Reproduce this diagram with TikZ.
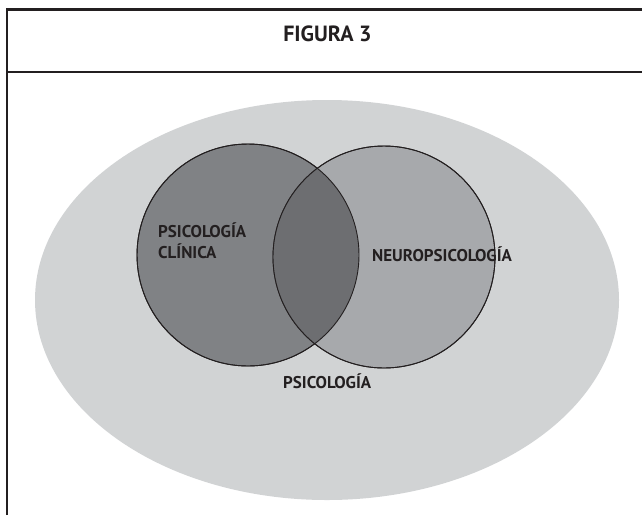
\documentclass[tikz,border=0pt]{standalone}
\usepackage{fontspec}
\setsansfont{PT Sans}
\usepackage{tikz}
\usetikzlibrary{positioning}
\usetikzlibrary{shapes.geometric}
\usetikzlibrary{backgrounds}
\definecolor{grisfondo}{HTML}{D1D3D4}
\definecolor{grisclaro}{HTML}{A7A9AC}
\definecolor{grisoscuro}{HTML}{808285}
\definecolor{grisinter}{HTML}{6D6E71}
\definecolor{marco}{HTML}{231F20}
\tikzset{
  venn_txt/.style = {inner sep=0pt, font=\sffamily\bfseries\fontsize{17}{21}\selectfont,
    text=marco},% etiquetas
  venn_c/.style = {circle, draw=marco, line width=0.9pt, minimum size=222pt,
    inner sep=0pt},% circulos
  venn_f/.style = {line width=2.4pt, draw=marco}% marco de la figura
}

\begin{document}
\begin{tikzpicture}[x=1pt,y=-1pt]
\useasboundingbox (0,0) rectangle (642,515);
% marco
\coordinate (m_sw) at (7,515);
\coordinate (m_nw) at (7,9.5);
\coordinate (m_ne) at (642,9.5);
\coordinate (h_w) at (7,72);
\coordinate (h_e) at (642,72);
\draw[venn_f] (m_sw) -- (m_nw) -- (m_ne);
\draw[venn_f] (h_w) -- (h_e);
\node[venn_txt, anchor=base, font=\sffamily\bfseries\fontsize{22}{26}\selectfont]
  (titulo) at (327.5,41) {FIGURA 3};

% psicologia
\node[ellipse, fill=grisfondo, minimum width=584pt, minimum height=400pt,
  inner sep=0pt] (psico) at (327,300) {};

% los dos circulos
\node[venn_c, fill=grisoscuro] (clin) at (248,255) {};
\node[venn_c, fill=grisclaro] (neuro) at (384,257) {};
\begin{scope}
  \clip (clin.center) circle[radius=111];
  \fill[grisinter] (neuro.center) circle[radius=111];
\end{scope}
\draw[marco, line width=0.9pt] (clin.center) circle[radius=111];
\draw[marco, line width=0.9pt] (neuro.center) circle[radius=111];

\node[venn_txt, anchor=base west, align=left] (t_clin) at (158,258)
  {PSICOLOGÍA\\CLÍNICA};
\node[venn_txt, anchor=base west] (t_neuro) at (372,261) {NEUROPSICOLOGÍA};
\node[venn_txt, anchor=base west] (t_psico) at (283,388) {PSICOLOGÍA};
\end{tikzpicture}
\end{document}
